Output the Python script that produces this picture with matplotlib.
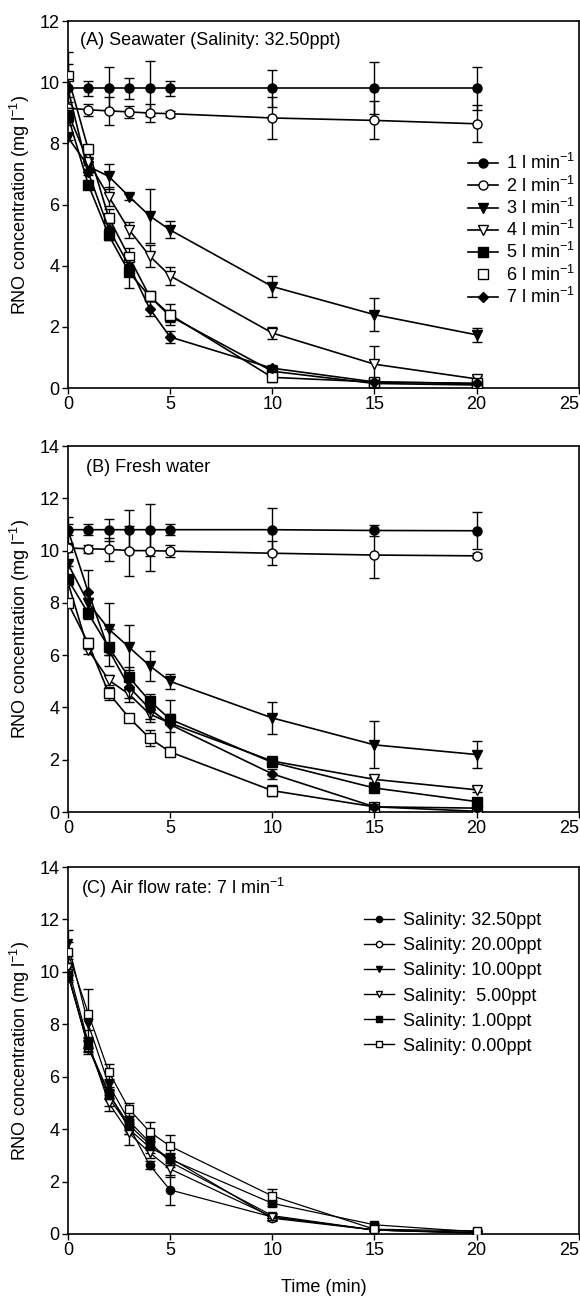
import matplotlib
matplotlib.use("Agg")
import matplotlib.pyplot as plt
from matplotlib.lines import Line2D

plt.rcParams['font.family'] = ['Liberation Sans', 'DejaVu Sans']
plt.rcParams['mathtext.fontset'] = 'custom'
plt.rcParams['mathtext.rm'] = 'Liberation Sans'
plt.rcParams['font.size'] = 13

time_min = [0, 1, 2, 3, 4, 5, 10, 15, 20]

# Panel A: Seawater, air flow rates 1..7 l/min
A_labels = ["1 l min$^{\\mathregular{-1}}$", "2 l min$^{\\mathregular{-1}}$", "3 l min$^{\\mathregular{-1}}$",
            "4 l min$^{\\mathregular{-1}}$", "5 l min$^{\\mathregular{-1}}$", "6 l min$^{\\mathregular{-1}}$",
            "7 l min$^{\\mathregular{-1}}$"]
A_mean = [
    [9.8, 9.8, 9.8, 9.8, 9.8, 9.8, 9.8, 9.8, 9.8],
    [9.15, 9.1, 9.06, 9.03, 8.99, 8.97, 8.83, 8.75, 8.64],
    [8.2, 7.25, 6.92, 6.26, 5.63, 5.17, 3.32, 2.4, 1.74],
    [9.0, 7.4, 6.26, 5.17, 4.32, 3.67, 1.8, 0.78, 0.3],
    [8.9, 6.65, 5.0, 3.78, 3.0, 2.35, 0.55, 0.15, 0.1],
    [10.2, 7.8, 5.57, 4.28, 3.0, 2.4, 0.35, 0.2, 0.15],
    [9.8, 7.05, 5.2, 4.0, 2.6, 1.67, 0.65, 0.2, 0.15],
]
A_err = [
    [1.2, 0.25, 0.7, 0.35, 0.9, 0.25, 0.6, 0.85, 0.7],
    [0.2, 0.2, 0.45, 0.2, 0.3, 0.1, 0.7, 0.62, 0.6],
    [0.1, 0.1, 0.41, 0.1, 0.88, 0.28, 0.35, 0.54, 0.22],
    [0.15, 0.1, 0.3, 0.25, 0.35, 0.3, 0.2, 0.58, 0.1],
    [0.2, 0.1, 0.15, 0.5, 0.15, 0.2, 0.1, 0.05, 0.05],
    [0.4, 0.15, 0.3, 0.3, 0.15, 0.35, 0.15, 0.05, 0.05],
    [0.3, 0.1, 0.2, 0.2, 0.25, 0.2, 0.1, 0.05, 0.05],
]

# Panel B: Fresh water
B_mean = [
    [10.8, 10.8, 10.8, 10.8, 10.8, 10.8, 10.8, 10.77, 10.76],
    [10.1, 10.07, 10.05, 10.0, 10.0, 9.98, 9.9, 9.83, 9.8],
    [9.5, 8.0, 7.0, 6.3, 5.6, 5.0, 3.6, 2.57, 2.2],
    [8.8, 6.2, 5.05, 4.5, 3.75, 3.4, 1.95, 1.25, 0.85],
    [8.9, 7.6, 6.3, 5.15, 4.25, 3.55, 1.9, 0.92, 0.4],
    [8.0, 6.45, 4.55, 3.6, 2.83, 2.3, 0.82, 0.2, 0.03],
    [10.8, 8.4, 6.2, 4.78, 3.95, 3.35, 1.46, 0.2, 0.15],
]
B_err = [
    [0.5, 0.2, 0.42, 0.75, 1.0, 0.2, 0.82, 0.2, 0.7],
    [0.15, 0.15, 0.43, 0.96, 0.78, 0.22, 0.45, 0.89, 0.1],
    [0.1, 0.2, 1.0, 0.86, 0.57, 0.28, 0.6, 0.9, 0.51],
    [0.1, 0.15, 0.2, 0.3, 0.3, 0.9, 0.1, 0.1, 0.1],
    [0.15, 0.2, 0.7, 0.4, 0.25, 0.2, 0.15, 0.1, 0.1],
    [0.1, 0.2, 0.25, 0.1, 0.3, 0.1, 0.2, 0.05, 0.05],
    [0.2, 0.85, 0.2, 0.4, 0.4, 0.3, 0.2, 0.1, 0.1],
]

# Panel C: Air flow rate 7 l/min, salinities
C_labels = ["Salinity: 32.50ppt", "Salinity: 20.00ppt", "Salinity: 10.00ppt",
            "Salinity:  5.00ppt", "Salinity: 1.00ppt", "Salinity: 0.00ppt"]
C_mean = [
    [9.9, 7.15, 5.2, 4.1, 2.63, 1.68, 0.65, 0.15, 0.05],
    [10.0, 7.1, 5.4, 4.0, 3.3, 2.9, 0.6, 0.15, 0.05],
    [11.1, 8.0, 5.7, 4.3, 3.5, 2.75, 0.7, 0.15, 0.02],
    [10.2, 7.3, 5.0, 3.84, 3.1, 2.48, 0.65, 0.15, 0.05],
    [9.9, 7.2, 5.35, 4.15, 3.42, 2.85, 1.17, 0.35, 0.08],
    [10.75, 8.41, 6.19, 4.76, 3.9, 3.35, 1.45, 0.18, 0.12],
]
C_err = [
    [0.3, 0.2, 0.3, 0.3, 0.15, 0.58, 0.1, 0.05, 0.05],
    [0.3, 0.25, 0.2, 0.2, 0.2, 0.2, 0.1, 0.05, 0.05],
    [0.5, 0.2, 0.2, 0.2, 0.2, 0.2, 0.1, 0.05, 0.05],
    [0.3, 0.2, 0.3, 0.45, 0.2, 0.3, 0.1, 0.05, 0.05],
    [0.2, 0.2, 0.2, 0.2, 0.2, 0.2, 0.1, 0.05, 0.05],
    [0.4, 0.95, 0.3, 0.24, 0.36, 0.42, 0.25, 0.05, 0.05],
]

x_ticks = [0, 5, 10, 15, 20, 25]

marker_styles = [('o', 'black'), ('o', 'white'), ('v', 'black'), ('v', 'white'),
                 ('s', 'black'), ('s', 'white'), ('D', 'black')]

fig = plt.figure(figsize=(5.8, 12.97), dpi=100)
axA = fig.add_axes([0.117, 0.7008, 0.881, 0.2830])
axB = fig.add_axes([0.117, 0.3739, 0.881, 0.2822])
axC = fig.add_axes([0.117, 0.0486, 0.881, 0.2829])


def draw(ax, means, errs, lw, ms):
    for i, (m, e) in enumerate(zip(means, errs)):
        mk, fc = marker_styles[i]
        size = ms - 1 if mk == 'D' else ms
        ax.errorbar(time_min, m, yerr=e, fmt='-', marker=mk, color='black',
                    mfc=fc, mec='black', ms=size, mew=1.0, lw=lw,
                    ecolor='black', elinewidth=1.0, capsize=3.5, capthick=1.0,
                    zorder=3 + i * 0.1)


def style(ax, ymax):
    ax.set_xlim(0, 25)
    ax.set_ylim(0, ymax)
    ax.set_xticks(x_ticks)
    ax.set_yticks(list(range(0, ymax + 1, 2)))
    ax.tick_params(direction='out', length=4, width=1.0, labelsize=13, pad=2)
    labels = ax.get_xticklabels()
    labels[-1].set_horizontalalignment('right')
    for s in ax.spines.values():
        s.set_linewidth(1.2)
    ax.set_ylabel("RNO concentration (mg l$^{\\mathregular{-1}}$)", fontsize=13)
    ax.yaxis.set_label_coords(-0.071, 0.5)


draw(axA, A_mean, A_err, 1.2, 6.5)
style(axA, 12)
axA.text(0.0235, 0.948, "(A) Seawater (Salinity: 32.50ppt)", transform=axA.transAxes,
         ha='left', va='center', fontsize=13)
handlesA = []
for i in range(7):
    mk, fc = marker_styles[i]
    ls = 'none' if i == 5 else '-'
    handlesA.append(Line2D([], [], color='black', ls=ls, lw=1.2, marker=mk,
                           mfc=fc, mec='black', ms=6.5 if mk != 'D' else 5.5))
axA.legend(handlesA, A_labels, loc='center left', bbox_to_anchor=(0.783, 0.4305),
           frameon=False, fontsize=13, handlelength=1.67, handletextpad=0.45,
           labelspacing=0.12, borderpad=0, borderaxespad=0)

draw(axB, B_mean, B_err, 1.2, 6.5)
style(axB, 14)
axB.text(0.035, 0.9426, "(B) Fresh water", transform=axB.transAxes,
         ha='left', va='center', fontsize=13)

draw(axC, C_mean, C_err, 0.9, 6.0)
style(axC, 14)
axC.text(0.0254, 0.943, "(C) Air flow rate: 7 l min$^{\\mathregular{-1}}$", transform=axC.transAxes,
         ha='left', va='center', fontsize=13)
handlesC = []
for i in range(6):
    mk, fc = marker_styles[i]
    handlesC.append(Line2D([], [], color='black', ls='-', lw=1.0, marker=mk,
                           mfc=fc, mec='black', ms=4.5))
axC.legend(handlesC, C_labels, loc='center left', bbox_to_anchor=(0.58, 0.6826),
           frameon=False, fontsize=13, handlelength=1.67, handletextpad=0.5,
           labelspacing=0.45, borderpad=0, borderaxespad=0)
axC.set_xlabel("Time (min)", fontsize=13, labelpad=14)

fig.savefig("out.png", dpi=100)
